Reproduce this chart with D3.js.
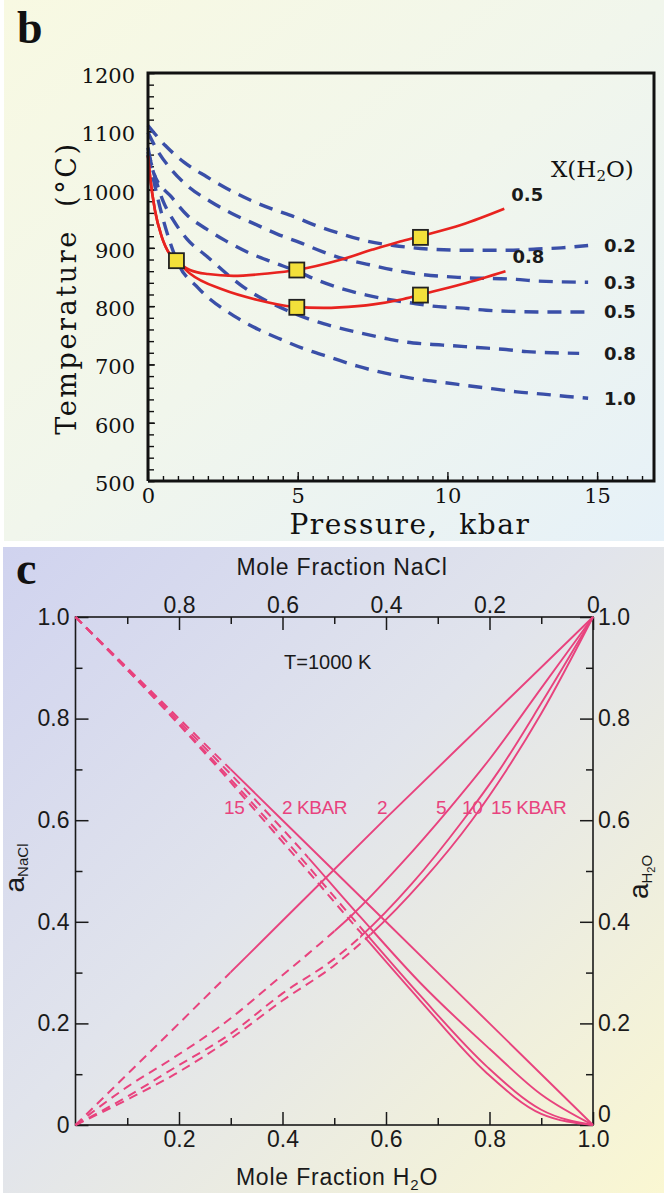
<!DOCTYPE html>
<html>
<head>
<meta charset="utf-8">
<script src="https://cdn.jsdelivr.net/npm/d3@7"></script>
<style>
  body { margin: 0; background: #fff; }
  svg { display: block; }
</style>
</head>
<body>
<svg id="fig" width="664" height="1193"></svg>
<script>
// ---------- panel b : solidus T vs P, dashed = X(H2O) isopleths ----------
const pTicks = [0, 5, 10, 15];
const tTicks = [500, 600, 700, 800, 900, 1000, 1100, 1200];
const isoLabels = ["0.2", "0.3", "0.5", "0.8", "1.0"];
const iso02 = [[0,1110],[0.57,1076],[1.2,1047],[1.96,1022],[2.63,1002],[3.41,982],[4.18,966],[4.85,954],[5.63,938],[6.4,925],[7.2,913],[8.2,904],[9.1,899],[10.5,896],[12.2,896],[13.0,898],[13.8,900],[14.7,904]];
const iso03 = [[0,1098],[0.27,1071],[0.8,1033],[1.35,1005],[2.07,980],[2.8,959],[3.52,942],[4.3,924],[5.08,909],[5.8,894],[6.55,881],[7.4,871],[8.2,862],[9.05,855],[10.5,849],[12.3,846],[13.0,843],[14.7,841]];
const iso05 = [[0,1072],[0.2,1027],[0.79,987],[1.31,956],[1.96,932],[2.6,912],[3.35,892],[4.19,875],[4.97,860],[5.69,844],[6.47,830],[7.3,819],[8.08,811],[8.86,805],[9.5,800],[10.4,797],[11.3,793],[12.1,791],[13.0,790],[14.6,790]];
const iso08 = [[0,1065],[0.49,982],[0.85,947],[1.29,916],[2.0,884],[3.18,833],[4.63,793],[5.36,778],[6.13,766],[7.0,755],[7.9,745],[8.53,739],[9.31,735],[10.2,732],[11.0,729],[11.86,726],[12.65,722],[13.53,720],[14.4,719]];
const iso10 = [[0,1060],[0.5,950],[1.0,874],[1.68,831],[2.91,782],[3.69,760],[4.35,745],[5.2,727],[6.1,712],[7.0,697],[8.2,682],[9.1,674],[9.87,669],[10.76,663],[11.54,658],[12.32,653],[13.2,649],[14.0,645],[14.7,642]];
const isopleths = [iso02, iso03, iso05, iso08, iso10];

const meltLabels = ["0.5", "0.8"];
const melt05 = [[0,1058],[0.07,1022],[0.23,965],[0.46,919],[0.73,889],[0.95,878],[1.4,862],[2.0,855],[2.85,852],[4.0,856],[4.97,862],[6.4,879],[7.5,897],[8.42,911],[9.1,920],[10.5,940],[11.9,967]];
const melt08 = [[0,1058],[0.07,1022],[0.23,965],[0.46,919],[0.73,889],[0.95,878],[1.4,856],[2.52,828],[3.63,811],[4.86,799],[5.86,797],[7.0,800],[7.53,803],[8.42,811],[9.12,820],[10.5,838],[11.94,860]];
const meltCurves = [melt05, melt08];

const expP = [0.95, 4.97, 4.97, 9.1, 9.1];
const expT = [878, 862, 798, 918, 819];

// ---------- panel c : activities at T = 1000 K ----------
const pressLabels = ["2", "5", "10", "15"];
const aH2O_2  = [[0,0],[0.2,0.2],[0.4,0.402],[0.6,0.604],[0.8,0.802],[1,1]];
const aH2O_5  = [[0,0],[0.1,0.075],[0.192,0.134],[0.3,0.21],[0.373,0.272],[0.469,0.354],[0.531,0.41],[0.63,0.515],[0.72,0.62],[0.8,0.72],[0.9,0.86],[1,1]];
const aH2O_10 = [[0,0],[0.1,0.056],[0.192,0.113],[0.3,0.18],[0.4,0.259],[0.501,0.328],[0.55,0.37],[0.65,0.475],[0.749,0.6],[0.82,0.7],[0.9,0.83],[1,1]];
const aH2O_15 = [[0,0],[0.1,0.05],[0.192,0.1],[0.3,0.17],[0.4,0.245],[0.501,0.315],[0.57,0.375],[0.67,0.48],[0.766,0.6],[0.833,0.699],[0.9,0.81],[1,1]];
const aNaCl_2  = [[0,1],[0.2,0.8],[0.4,0.6],[0.6,0.4],[0.8,0.2],[1,0]];
const aNaCl_5  = [[0,1],[0.2,0.795],[0.414,0.567],[0.55,0.41],[0.666,0.28],[0.8,0.15],[0.9,0.06],[1,0]];
const aNaCl_10 = [[0,1],[0.2,0.79],[0.414,0.551],[0.55,0.39],[0.666,0.255],[0.795,0.115],[0.9,0.03],[1,0]];
const aNaCl_15 = [[0,1],[0.2,0.788],[0.414,0.541],[0.55,0.38],[0.666,0.245],[0.795,0.102],[0.9,0.022],[1,0]];
const aH2O = [aH2O_2, aH2O_5, aH2O_10, aH2O_15];
const aNaCl = [aNaCl_2, aNaCl_5, aNaCl_10, aNaCl_15];
// x(H2O) where the dashed (extrapolated) part ends
const h2oDashEnd = [0.30, 0.50, 0.55, 0.57];
const naclDashEnd = [0.30, 0.45, 0.56, 0.56];
const fracTicks = [0, 0.2, 0.4, 0.6, 0.8, 1.0];

const svg = d3.select("#fig");
const defs = svg.append("defs");

function grad(id, stops) {
  const g = defs.append("linearGradient").attr("id", id)
    .attr("x1", 0).attr("y1", 0).attr("x2", 1).attr("y2", 1);
  stops.forEach(s => g.append("stop").attr("offset", s[0]).attr("stop-color", s[1]));
}
grad("bgB", [[0, "#f8f9e2"], [0.5, "#f1f6ec"], [1, "#e6f1f8"]]);
grad("bgC", [[0, "#d0d3ef"], [0.45, "#e1e4ec"], [1, "#faf7d2"]]);

svg.append("rect").attr("x", 4).attr("y", 0).attr("width", 660).attr("height", 541).attr("fill", "url(#bgB)");
svg.append("rect").attr("x", 3).attr("y", 547).attr("width", 661).attr("height", 646).attr("fill", "url(#bgC)");

// ================= panel b =================
const xB = d3.scaleLinear().domain([0, 16.9]).range([148, 654]);
const yB = d3.scaleLinear().domain([500, 1200]).range([481, 73]);
const serif = "'DejaVu Serif', serif";

const gb = svg.append("g");

svg.append("text").attr("x", 17).attr("y", 43)
  .attr("font-family", "'Liberation Serif', serif").attr("font-weight", "bold")
  .attr("font-size", 46).attr("fill", "#111").text("b");

// minor ticks
gb.append("g").attr("transform", "translate(" + xB(0) + ",0)")
  .call(d3.axisLeft(yB).tickValues(d3.range(500, 1201, 20)).tickSize(-6).tickFormat(""))
  .call(g => g.select(".domain").remove());
gb.append("g").attr("transform", "translate(0," + yB(500) + ")")
  .call(d3.axisBottom(xB).tickValues(d3.range(0.5, 16.9, 0.5)).tickSize(-5).tickFormat(""))
  .call(g => g.select(".domain").remove());

// labelled ticks
gb.append("g").attr("transform", "translate(" + xB(0) + ",0)")
  .call(d3.axisLeft(yB).tickValues(tTicks).tickSize(-7).tickPadding(13).tickFormat(d3.format("d")))
  .call(g => g.select(".domain").remove())
  .call(g => g.selectAll("text").attr("font-family", serif).attr("font-size", 21).attr("fill", "#111").attr("dy", "0.45em"));
gb.append("g").attr("transform", "translate(0," + yB(500) + ")")
  .call(d3.axisBottom(xB).tickValues(pTicks).tickSize(-9).tickPadding(7).tickFormat(d3.format("d")))
  .call(g => g.select(".domain").remove())
  .call(g => g.selectAll("text").attr("font-family", serif).attr("font-size", 21).attr("fill", "#111"));
gb.selectAll(".tick line").attr("stroke", "#111").attr("stroke-width", 1.4);

gb.append("text").attr("x", 410).attr("y", 534).attr("text-anchor", "middle")
  .attr("font-family", serif).attr("font-size", 28).attr("letter-spacing", 1.6)
  .attr("fill", "#111").attr("xml:space", "preserve").text("Pressure,  kbar");
gb.append("text").attr("transform", "translate(76,288) rotate(-90)").attr("text-anchor", "middle")
  .attr("font-family", serif).attr("font-size", 27).attr("letter-spacing", 2.6)
  .attr("fill", "#111").attr("xml:space", "preserve").text("Temperature  (°C)");

// isopleths
const lineB = d3.line().x(d => xB(d[0])).y(d => yB(d[1])).curve(d3.curveMonotoneX);
gb.append("g").selectAll("path").data(isopleths).join("path")
  .attr("d", lineB).attr("fill", "none").attr("stroke", "#3a4fa8")
  .attr("stroke-width", 3.4).attr("stroke-dasharray", "14 9");

gb.append("g").selectAll("text").data(isopleths).join("text")
  .attr("x", 604).attr("y", d => yB(d[d.length - 1][1]))
  .attr("dy", "0.36em").attr("font-family", "'DejaVu Sans', sans-serif").attr("font-weight", "bold")
  .attr("font-size", 18).attr("fill", "#1a1a1a").text((d, i) => isoLabels[i]);

// melting curves
gb.append("g").selectAll("path").data(meltCurves).join("path")
  .attr("d", lineB).attr("fill", "none").attr("stroke", "#e8231f").attr("stroke-width", 2.6);
gb.append("g").selectAll("text").data(meltCurves).join("text")
  .attr("x", d => xB(d[d.length - 1][0]) + 7).attr("y", d => yB(d[d.length - 1][1]) - 8)
  .attr("font-family", "'DejaVu Sans', sans-serif").attr("font-weight", "bold")
  .attr("font-size", 18).attr("fill", "#1a1a1a").text((d, i) => meltLabels[i]);

// experiments
gb.append("g").selectAll("rect").data(expP).join("rect")
  .attr("x", d => xB(d) - 7.5).attr("y", (d, i) => yB(expT[i]) - 7.5)
  .attr("width", 15).attr("height", 15).attr("fill", "#f3e03a")
  .attr("stroke", "#222").attr("stroke-width", 1.8);

const xl = gb.append("text").attr("x", 551).attr("y", 177)
  .attr("font-family", serif).attr("font-size", 23).attr("fill", "#111");
xl.append("tspan").text("X(H");
xl.append("tspan").attr("font-size", 15).attr("dy", 4).text("2");
xl.append("tspan").attr("dy", -4).text("O)");

// frame
gb.append("path").attr("d", d3.line()([[xB(0), yB(500)], [xB(0), yB(1200)], [xB(16.9), yB(1200)], [xB(16.9), yB(500)], [xB(0), yB(500)]]))
  .attr("fill", "none").attr("stroke", "#111").attr("stroke-width", 3);

// ================= panel c =================
const xC = d3.scaleLinear().domain([0, 1]).range([75.5, 593]);
const xNa = d3.scaleLinear().domain([1, 0]).range([75.5, 593]);
const yC = d3.scaleLinear().domain([0, 1]).range([1125, 617]);
const sans = "'Liberation Sans', Arial, sans-serif";
const pink = "#e8437e";
const fmt = d => d === 0 ? "0" : d.toFixed(1);

const gc = svg.append("g");

svg.append("text").attr("x", 16).attr("y", 584)
  .attr("font-family", "'Liberation Serif', serif").attr("font-weight", "bold")
  .attr("font-size", 46).attr("fill", "#111").text("c");

const minor = d3.range(0.1, 1, 0.2);
function axisPair(axisFn, scale, pos, labelVals, pad) {
  const g = gc.append("g").attr("transform", pos);
  g.append("g").call(axisFn(scale).tickValues(minor).tickSize(-7).tickFormat(""))
    .call(a => a.select(".domain").remove());
  g.append("g").call(axisFn(scale).tickValues(labelVals).tickSize(-13).tickPadding(pad).tickFormat(fmt))
    .call(a => a.select(".domain").remove())
    .call(a => a.selectAll("text").attr("font-family", sans).attr("font-size", 23).attr("fill", "#1a1a1a"));
  g.selectAll(".tick line").attr("stroke", "#1a1a1a").attr("stroke-width", 1.5);
  return g;
}
axisPair(d3.axisLeft, yC, "translate(" + xC(0) + ",0)", fracTicks, 6);
const rightAxis = axisPair(d3.axisRight, yC, "translate(" + xC(1) + ",0)", fracTicks, 5);
rightAxis.selectAll("text").filter(d => d === 0).attr("dy", "-0.15em");
axisPair(d3.axisBottom, xC, "translate(0," + yC(0) + ")", [0.2, 0.4, 0.6, 0.8, 1.0], 6);
axisPair(d3.axisTop, xNa, "translate(0," + yC(1) + ")", [0.8, 0.6, 0.4, 0.2, 0], 4);

gc.append("rect").attr("x", xC(0)).attr("y", yC(1))
  .attr("width", xC(1) - xC(0)).attr("height", yC(0) - yC(1))
  .attr("fill", "none").attr("stroke", "#1a1a1a").attr("stroke-width", 1.6);

gc.append("text").attr("x", 342).attr("y", 575).attr("text-anchor", "middle")
  .attr("font-family", sans).attr("font-size", 23).attr("letter-spacing", 0.8)
  .attr("fill", "#1a1a1a").text("Mole Fraction NaCl");
const bt = gc.append("text").attr("x", 337).attr("y", 1185).attr("text-anchor", "middle")
  .attr("font-family", sans).attr("font-size", 23).attr("letter-spacing", 0.8).attr("fill", "#1a1a1a");
bt.append("tspan").text("Mole Fraction H");
bt.append("tspan").attr("font-size", 15).attr("dy", 5).text("2");
bt.append("tspan").attr("dy", -5).text("O");

gc.append("text").attr("x", 284).attr("y", 669)
  .attr("font-family", sans).attr("font-size", 20).attr("fill", "#1a1a1a").text("T=1000 K");

const la = gc.append("text").attr("transform", "translate(24,868) rotate(-90)").attr("text-anchor", "middle")
  .attr("font-family", sans).attr("fill", "#1a1a1a");
la.append("tspan").attr("font-size", 28).text("a");
la.append("tspan").attr("font-size", 15).attr("dy", 4).text("NaCl");
const ra = gc.append("text").attr("transform", "translate(648,877) rotate(-90)").attr("text-anchor", "middle")
  .attr("font-family", sans).attr("fill", "#1a1a1a");
ra.append("tspan").attr("font-size", 28).text("a");
ra.append("tspan").attr("font-size", 15).attr("dy", 4).text("H");
ra.append("tspan").attr("font-size", 11).attr("dy", 3).text("2");
ra.append("tspan").attr("font-size", 15).attr("dy", -3).text("O");

// activity curves, dashed up to the end of the extrapolated range
const lineC = d3.line().x(d => xC(d[0])).y(d => yC(d[1])).curve(d3.curveMonotoneX);
function drawAct(curves, ends, name) {
  curves.forEach((c, i) => {
    const cut = xC(ends[i]);
    defs.append("clipPath").attr("id", name + "d" + i).append("rect")
      .attr("x", 0).attr("y", 0).attr("width", cut).attr("height", 1193);
    defs.append("clipPath").attr("id", name + "s" + i).append("rect")
      .attr("x", cut).attr("y", 0).attr("width", 664 - cut).attr("height", 1193);
    gc.append("path").datum(c).attr("d", lineC).attr("fill", "none")
      .attr("stroke", pink).attr("stroke-width", 2).attr("stroke-dasharray", "9 6")
      .attr("clip-path", "url(#" + name + "d" + i + ")");
    gc.append("path").datum(c).attr("d", lineC).attr("fill", "none")
      .attr("stroke", pink).attr("stroke-width", 1.9)
      .attr("clip-path", "url(#" + name + "s" + i + ")");
  });
}
drawAct(aH2O, h2oDashEnd, "h");
drawAct(aNaCl, naclDashEnd, "n");

const kb = { "font-family": sans, "font-size": 19, "fill": pink, "letter-spacing": -0.4 };
function pinkText(x, t) {
  const e = gc.append("text").attr("x", x).attr("y", 814).text(t);
  Object.entries(kb).forEach(([k, v]) => e.attr(k, v));
  return e;
}
pinkText(224, pressLabels[3]);
pinkText(282, pressLabels[0] + " KBAR");
pinkText(377, pressLabels[0]);
pinkText(436, pressLabels[1]);
pinkText(462, pressLabels[2]);
pinkText(491, pressLabels[3] + " KBAR");
</script>
</body>
</html>
